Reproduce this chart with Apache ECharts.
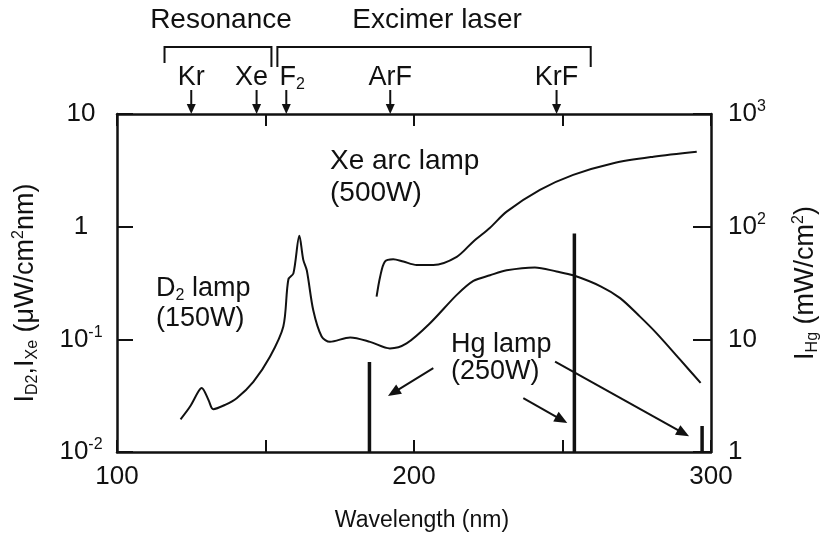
<!DOCTYPE html>
<html>
<head>
<meta charset="utf-8">
<script src="https://cdn.jsdelivr.net/npm/echarts@6/dist/echarts.min.js"></script>
<style>
  html, body { margin: 0; padding: 0; background: #fff; }
  #chart { width: 821px; height: 543px; }
</style>
</head>
<body>
<div id="chart"></div>
<script>
// Deuterium lamp spectrum (150 W), wavelength in nm, intensity in µW/cm²·nm
const d2Wave = [121.4, 124.6, 127.4, 128.5, 130.8, 132.4, 136.4, 140.3, 145.9, 151.5, 156.0, 157.7, 159.4, 161.4, 162.7, 163.9, 166.1, 168.9, 171.7, 178.5, 185.2, 191.9, 197.5, 205.4, 214.4, 220.0, 225.6, 231.2, 240.7, 248.0, 253.6, 263.0, 269.4, 276.1, 281.7, 289.6, 296.5];
const d2Value = [0.0195, 0.0253, 0.0344, 0.037, 0.029, 0.024, 0.0262, 0.030, 0.042, 0.070, 0.13, 0.34, 0.385, 0.83, 0.51, 0.41, 0.18, 0.106, 0.095, 0.104, 0.095, 0.083, 0.092, 0.139, 0.248, 0.33, 0.37, 0.41, 0.435, 0.40, 0.37, 0.294, 0.232, 0.159, 0.113, 0.066, 0.041];

// Xe arc lamp spectrum (500 W)
const xeWave = [187.4, 188.6, 190.2, 193.0, 196.4, 200.9, 206.5, 214.4, 220.0, 225.6, 231.2, 242.4, 253.6, 267.1, 280.6, 295.2];
const xeValue = [0.239, 0.36, 0.49, 0.514, 0.49, 0.457, 0.457, 0.54, 0.74, 0.98, 1.36, 2.12, 2.88, 3.66, 4.18, 4.63];

// Hg lamp (250 W) emission lines, intensity in mW/cm²
const hgWave = [185, 254, 297];
const hgValue = [6.3, 87, 1.7];

// Resonance and excimer laser lines marked above the plot
const markerWave = [125, 147, 157, 192, 248];
const markerName = ['Kr', 'Xe', 'F{sub|2}', 'ArF', 'KrF'];
const groupName = ['Resonance', 'Excimer laser'];
const groupRange = [[116, 152], [154, 259.5]];

// Tick labels
const xTickLabels = { 100: '100', 200: '200', 300: '300' };
const leftTickLabels = { '1': '10', '0': '1', '-1': '10{sup|-1}', '-2': '10{sup|-2}' };
const rightTickLabels = { '0': '1', '1': '10', '2': '10{sup|2}', '3': '10{sup|3}' };

// Hg lamp pointer arrows, in (nm, µW/cm²·nm) coordinates
const hgArrows = [
  [[206.5, 0.0555], [193.1, 0.0337]],
  [[236.8, 0.030], [249.7, 0.0193]],
  [[247.5, 0.0634], [290.7, 0.0147]]
];

const FONT = 'Liberation Sans, Arial, Helvetica, sans-serif';
const INK = '#111';
const BIG = 27;

const richScript = {
  sup: { fontSize: 16, verticalAlign: 'top', lineHeight: 18, fontFamily: FONT, color: INK },
  sub: { fontSize: 16, verticalAlign: 'bottom', lineHeight: 12, fontFamily: FONT, color: INK }
};

const chart = echarts.init(document.getElementById('chart'), null, { renderer: 'canvas' });

const lineSeries = (name, xs, ys) => ({
  name, type: 'line', xAxisIndex: 0, yAxisIndex: 0,
  data: xs.map((x, i) => [x, ys[i]]),
  showSymbol: false, smooth: 0.3,
  lineStyle: { color: INK, width: 2 },
  silent: true, z: 3
});

const hgSeries = hgWave.map((w, i) => ({
  name: 'Hg ' + w, type: 'line', xAxisIndex: 0, yAxisIndex: 1,
  data: [[w, 1], [w, hgValue[i]]],
  showSymbol: false,
  lineStyle: { color: INK, width: 3.5 },
  silent: true, z: 4
}));

const d2 = lineSeries('D2 lamp', d2Wave, d2Value);
d2.markLine = {
  silent: true,
  symbol: ['none', 'triangle'],
  symbolSize: [11, 13],
  label: { show: false },
  lineStyle: { color: INK, width: 2, type: 'solid' },
  data: hgArrows.map(([a, b]) => [{ coord: a }, { coord: b }])
};

const option = {
  animation: false,
  backgroundColor: '#fff',
  textStyle: { fontFamily: FONT, color: INK },
  grid: { left: 117, top: 114, right: 110, bottom: 91, outerBoundsMode: 'none', containLabel: false },
  xAxis: [
    {
      type: 'value', min: 100, max: 300, interval: 50, position: 'bottom',
      axisLine: { show: true, onZero: false, lineStyle: { color: INK, width: 2.5 } },
      axisTick: { show: true, inside: true, length: 12, lineStyle: { color: INK, width: 2 } },
      axisLabel: {
        color: INK, fontSize: 26, fontFamily: FONT, margin: 12,
        formatter: v => xTickLabels[v] || ''
      },
      splitLine: { show: false },
      name: 'Wavelength (nm)', nameLocation: 'middle', nameGap: 57,
      nameTextStyle: { fontSize: 23, fontFamily: FONT, color: INK, padding: [0, 0, 0, 16] }
    },
    {
      type: 'value', min: 100, max: 300, interval: 50, position: 'top',
      axisLine: { show: true, onZero: false, lineStyle: { color: INK, width: 2.5 } },
      axisTick: { show: true, inside: true, length: 12, lineStyle: { color: INK, width: 2 } },
      axisLabel: { show: false },
      splitLine: { show: false }
    }
  ],
  yAxis: [
    {
      type: 'log', logBase: 10, min: 0.01, max: 10, position: 'left',
      axisLine: { show: true, onZero: false, lineStyle: { color: INK, width: 2.5 } },
      axisTick: { show: true, inside: true, length: 16, lineStyle: { color: INK, width: 2 } },
      minorTick: { show: false },
      axisLabel: {
        color: INK, fontSize: 26, fontFamily: FONT, margin: 36, lineHeight: 30, align: 'center',
        formatter: v => leftTickLabels[String(Math.round(Math.log10(v)))] || '',
        rich: richScript
      },
      splitLine: { show: false },
      name: 'I{sub|D2},I{sub|Xe} (μW/cm{sup|2}nm)', nameLocation: 'middle', nameRotate: 90, nameGap: 76,
      nameTextStyle: { fontSize: BIG, fontFamily: FONT, color: INK, lineHeight: 30, rich: richScript, padding: [0, 20, 0, 0] }
    },
    {
      type: 'log', logBase: 10, min: 1, max: 1000, position: 'right',
      axisLine: { show: true, onZero: false, lineStyle: { color: INK, width: 2.5 } },
      axisTick: { show: true, inside: true, length: 18, lineStyle: { color: INK, width: 2 } },
      minorTick: { show: false },
      axisLabel: {
        color: INK, fontSize: 26, fontFamily: FONT, margin: 17, lineHeight: 30,
        formatter: v => rightTickLabels[String(Math.round(Math.log10(v)))] || '',
        rich: richScript
      },
      splitLine: { show: false },
      name: 'I{sub|Hg} (mW/cm{sup|2})', nameLocation: 'middle', nameRotate: 90, nameGap: 80,
      nameTextStyle: { fontSize: BIG, fontFamily: FONT, color: INK, lineHeight: 30, rich: richScript }
    }
  ],
  series: [d2, lineSeries('Xe arc lamp', xeWave, xeValue)].concat(hgSeries)
};

chart.setOption(option);

// Annotations above the frame, positioned on the wavelength scale
const px = nm => chart.convertToPixel({ xAxisIndex: 0 }, nm);
const frameTop = 114;
const labelShift = [0, -5, 6, 0, 0];
const textStyle = (text, x, y, align, size) => ({
  type: 'text', x, y, silent: true,
  style: {
    text, x: 0, y: 0, align: align || 'center', verticalAlign: 'middle',
    fontSize: size || BIG, fontFamily: FONT, fill: INK, lineHeight: 30, rich: richScript
  }
});

const graphics = [];
groupRange.forEach((r, i) => {
  const x1 = px(r[0]), x2 = px(r[1]);
  graphics.push(textStyle(groupName[i], (x1 + x2) / 2 + 3, 20, 'center', 28));
  graphics.push({
    type: 'polyline', silent: true,
    shape: { points: [[x1, i === 0 ? 63 : 67], [x1, 47], [x2, 47], [x2, 67]] },
    style: { stroke: INK, lineWidth: 2, fill: null }
  });
});
markerWave.forEach((w, i) => {
  const x = px(w);
  graphics.push(textStyle(markerName[i], x + labelShift[i], 78));
  graphics.push({
    type: 'line', silent: true,
    shape: { x1: x, y1: 90, x2: x, y2: frameTop - 8 },
    style: { stroke: INK, lineWidth: 2 }
  });
  graphics.push({
    type: 'polygon', silent: true,
    shape: { points: [[x - 4.5, frameTop - 10], [x + 4.5, frameTop - 10], [x, frameTop]] },
    style: { fill: INK }
  });
});

// Lamp labels inside the plot
graphics.push(textStyle('Xe arc lamp', 330, 161, 'left', 28));
graphics.push(textStyle('(500W)', 330, 193, 'left', 28));
graphics.push(textStyle('D{sub|2} lamp', 156, 289, 'left'));
graphics.push(textStyle('(150W)', 156, 319, 'left'));
graphics.push(textStyle('Hg lamp', 451, 345, 'left'));
graphics.push(textStyle('(250W)', 451, 372, 'left'));

chart.setOption({ graphic: graphics });
</script>
</body>
</html>
